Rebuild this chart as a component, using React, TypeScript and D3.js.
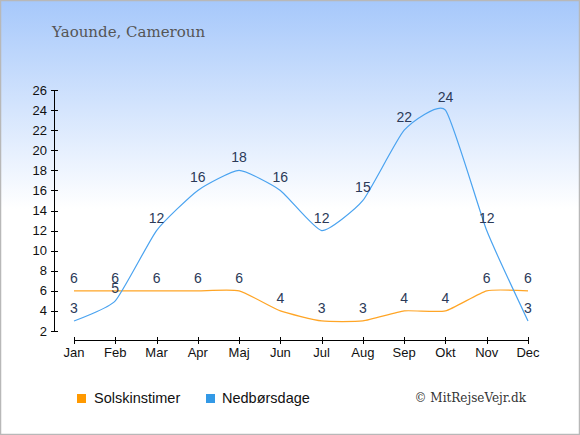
import React from "react";
import * as d3 from "d3";

const months = ["Jan", "Feb", "Mar", "Apr", "Maj", "Jun", "Jul", "Aug", "Sep", "Okt", "Nov", "Dec"];
const sunHours = [6, 6, 6, 6, 6, 4, 3, 3, 4, 4, 6, 6];
const rainDays = [3, 5, 12, 16, 18, 16, 12, 15, 22, 24, 12, 3];
const yTicks = [2, 4, 6, 8, 10, 12, 14, 16, 18, 20, 22, 24, 26];
const title = "Yaounde, Cameroun";
const legendItems = [
  { label: "Solskinstimer", color: "#ff9900" },
  { label: "Nedbørsdage", color: "#3399e6" },
];
const copyright = "© MitRejseVejr.dk";

const W = 580;
const H = 435;

export default function App() {
  const x = d3.scalePoint<string>().domain(months).range([74, 528]);
  const y = d3.scaleLinear().domain([2, 26]).range([331, 90]);
  const line = d3
    .line<number>()
    .x((_, i) => x(months[i]) as number)
    .y((d) => y(d))
    .curve(d3.curveCardinal.tension(0.5));

  const labelColor = "#2b3a58";
  return (
    <svg width={W} height={H} style={{ position: "absolute", left: 0, top: 0 }} fontFamily="Arial, 'Liberation Sans', sans-serif">
      <defs>
        <linearGradient id="bg" x1="0" y1="0" x2="0" y2="1">
          <stop offset="0" stopColor="#a6c8fb" />
          <stop offset="0.48" stopColor="#ffffff" />
          <stop offset="1" stopColor="#ffffff" />
        </linearGradient>
      </defs>
      <rect x={0.5} y={0.5} width={W - 1} height={H - 1} fill="url(#bg)" stroke="#b8b8b8" strokeWidth={1.5} />
      <text x={52} y={37} fontFamily="'DejaVu Serif', serif" fontSize={15} fill="#555">{title}</text>

      {/* y axis */}
      <line x1={54.5} x2={54.5} y1={y(26)} y2={y(2)} stroke="#000" />
      {yTicks.map((t) => (
        <g key={t}>
          <line x1={51} x2={58} y1={Math.round(y(t)) + 0.5} y2={Math.round(y(t)) + 0.5} stroke="#000" />
          <text x={47} y={y(t)} dy="0.35em" textAnchor="end" fontSize={13} fill="#111">{t}</text>
        </g>
      ))}

      {/* x axis */}
      <line x1={x("Jan")} x2={x("Dec")} y1={340.5} y2={340.5} stroke="#000" />
      {months.map((m) => (
        <g key={m}>
          <line x1={Math.round(x(m) as number) + 0.5} x2={Math.round(x(m) as number) + 0.5} y1={337} y2={344} stroke="#000" />
          <text x={x(m)} y={357} textAnchor="middle" fontSize={13} fill="#111">{m}</text>
        </g>
      ))}

      <path d={line(sunHours) || ""} fill="none" stroke="#ffa526" strokeWidth={1.2} />
      <path d={line(rainDays) || ""} fill="none" stroke="#4aa3f0" strokeWidth={1.2} />

      {sunHours.map((v, i) => (
        <text key={"s" + i} x={x(months[i])} y={y(v) - 8} textAnchor="middle" fontSize={14} fill={labelColor}>{v}</text>
      ))}
      {rainDays.map((v, i) => (
        <text key={"r" + i} x={x(months[i])} y={y(v) - 8} textAnchor="middle" fontSize={14} fill={labelColor}>{v}</text>
      ))}

      {legendItems.map((it, i) => (
        <g key={it.label}>
          <rect x={77 + i * 129} y={394} width={9} height={9} fill={it.color} />
          <text x={94 + i * 128} y={403} fontSize={14.5} fill="#111">{it.label}</text>
        </g>
      ))}
      <text x={526} y={402} textAnchor="end" fontFamily="'DejaVu Serif', serif" fontSize={12} fill="#333">{copyright}</text>
    </svg>
  );
}
